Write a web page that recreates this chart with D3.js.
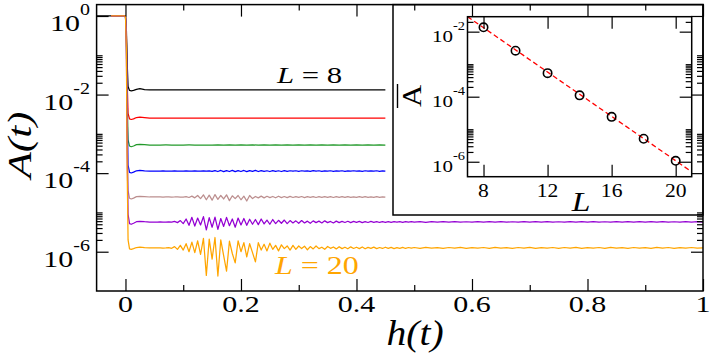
<!DOCTYPE html>
<html><head><meta charset="utf-8">
<script src="https://cdn.jsdelivr.net/npm/d3@7/dist/d3.min.js"></script>
<style>
body{margin:0;background:#fff}
svg, text, tspan{font-family:'Liberation Serif','Tinos','Times New Roman','Nimbus Roman','DejaVu Serif',serif}
</style>
</head><body>
<svg id="c" width="710" height="364" font-family="Liberation Serif, Times New Roman, serif"></svg>
<script>
// ---------------- DATA ----------------
const sizesL = [8, 10, 12, 14, 16, 18, 20];
const hStart = [-0.05, -0.025, -0.025, -0.025, -0.025, -0.025, -0.025];
const hTransient = [0, 0.0015, 0.003, 0.0045, 0.007, 0.010, 0.014, 0.019, 0.025, 0.033, 0.042];
const a8T  = [1, 0.5, 0.06, 0.016, 0.0127, 0.0125, 0.0128, 0.0136, 0.0142, 0.0134, 0.0131];
const a10T = [1, 0.4, 0.02, 0.0033, 0.0024, 0.00232, 0.0024, 0.0026, 0.00268, 0.0026, 0.00253];
const a12T = [1, 0.35, 0.008, 0.0007, 0.00049, 0.00047, 0.00049, 0.00053, 0.00054, 0.00053, 0.00052];
const a14T = [1, 0.3, 0.003, 1.6e-4, 1.05e-4, 1.01e-4, 1.06e-4, 1.15e-4, 1.18e-4, 1.15e-4, 1.13e-4];
const a16T = [1, 0.25, 0.001, 3.6e-5, 2.3e-5, 2.2e-5, 2.32e-5, 2.52e-5, 2.58e-5, 2.52e-5, 2.47e-5];
const a18T = [1, 0.2, 3e-4, 9e-6, 5.2e-6, 5.0e-6, 5.3e-6, 5.8e-6, 5.95e-6, 5.8e-6, 5.7e-6];
const a20T = [1, 0.15, 1e-4, 2e-6, 1.18e-6, 1.15e-6, 1.2e-6, 1.28e-6, 1.3e-6, 1.27e-6, 1.25e-6];

// flat tails (L = 8, 10)
const hFlat = [0.06, 0.2, 0.45];
const a8Flat = [1.31e-2, 1.31e-2, 1.31e-2];
const a10Flat = [2.53e-3, 2.53e-3, 2.53e-3];

// L = 12 tail, h = 0.05 ... 0.45 step 0.01
const h12Tail = d3.range(41).map(i => +(0.05 + i * 0.01).toFixed(3));
const a12Tail = [
 520e-6,520e-6,521e-6,519e-6,520e-6,520e-6,521e-6,519e-6,520e-6,520e-6,
 520e-6,522e-6,518e-6,523e-6,517e-6,522e-6,518e-6,523e-6,518e-6,522e-6,
 518e-6,522e-6,517e-6,523e-6,518e-6,522e-6,518e-6,521e-6,519e-6,522e-6,
 518e-6,522e-6,519e-6,521e-6,518e-6,522e-6,519e-6,521e-6,518e-6,521e-6,
 520e-6];

// L = 14 and 16 tails, h = 0.05 ... 0.45 step 0.005
const hMidTail = d3.range(81).map(i => +(0.05 + i * 0.005).toFixed(4));
const a14Tail = [
 113e-6,113e-6,113e-6,113.5e-6,112.5e-6,113e-6,113e-6,113.5e-6,112.5e-6,113e-6,
 113e-6,113.5e-6,112.5e-6,113e-6,114e-6,112e-6,113e-6,114e-6,112e-6,113.5e-6,
 111e-6,116e-6,110e-6,117e-6,109e-6,116e-6,110e-6,118e-6,109e-6,116e-6,
 110e-6,117e-6,109e-6,116e-6,111e-6,117e-6,110e-6,116e-6,111e-6,115e-6,
 110e-6,116e-6,111e-6,115e-6,110e-6,116e-6,111e-6,115e-6,112e-6,115e-6,
 111e-6,115e-6,112e-6,114e-6,111e-6,116e-6,112e-6,115e-6,111e-6,114e-6,
 112e-6,115e-6,111e-6,114e-6,112e-6,115e-6,111e-6,114e-6,112e-6,115e-6,
 112e-6,114e-6,111e-6,115e-6,112e-6,114e-6,112e-6,115e-6,111e-6,114e-6,
 113e-6];
const a16Tail = [
 24.7e-6,24.7e-6,24.8e-6,24.6e-6,24.7e-6,24.8e-6,24.6e-6,24.7e-6,24.9e-6,24.5e-6,
 24.5e-6,25.2e-6,24.0e-6,26.0e-6,23.5e-6,27.0e-6,22.5e-6,28.0e-6,21.0e-6,27.5e-6,
 20.5e-6,28.5e-6,21.5e-6,27.0e-6,22.0e-6,28.0e-6,20.0e-6,26.5e-6,22.5e-6,27.0e-6,
 21.0e-6,26.0e-6,19.5e-6,27.0e-6,22.5e-6,25.5e-6,23.5e-6,26.0e-6,23.5e-6,25.8e-6,
 23.8e-6,25.5e-6,23.6e-6,25.9e-6,23.9e-6,25.4e-6,23.8e-6,25.6e-6,24.0e-6,25.3e-6,
 24.1e-6,25.4e-6,23.9e-6,25.2e-6,24.2e-6,25.3e-6,24.0e-6,25.1e-6,24.2e-6,25.2e-6,
 24.1e-6,25.3e-6,24.0e-6,25.2e-6,24.3e-6,25.1e-6,24.1e-6,25.3e-6,24.2e-6,25.0e-6,
 24.2e-6,25.2e-6,24.1e-6,25.1e-6,24.3e-6,25.0e-6,24.2e-6,25.2e-6,24.3e-6,25.0e-6,
 24.6e-6];

// L = 18 and 20 tails: h = 0.05 ... 0.495 step 0.005, then 0.50 ... 1.00 step 0.01
const hLongTail = d3.range(90).map(i => +(0.05 + i * 0.005).toFixed(4))
  .concat(d3.range(51).map(i => +(0.5 + i * 0.01).toFixed(3)));
const a18Tail = [
 57e-7,57e-7,57.5e-7,56.5e-7,57e-7,57.5e-7,56.5e-7,59e-7,55e-7,62e-7,
 52e-7,68e-7,47e-7,75e-7,45e-7,72e-7,48e-7,78e-7,36e-7,74e-7,
 42e-7,76e-7,37e-7,70e-7,44e-7,75e-7,46e-7,68e-7,42e-7,72e-7,
 48e-7,70e-7,47e-7,67e-7,50e-7,66e-7,49e-7,68e-7,51e-7,64e-7,
 50e-7,66e-7,52e-7,63e-7,53e-7,64e-7,52e-7,62e-7,54e-7,61e-7,
 53e-7,62e-7,54e-7,60e-7,53e-7,61e-7,55e-7,60e-7,54e-7,61e-7,
 55e-7,59e-7,54e-7,60e-7,55e-7,59e-7,55.5e-7,59.5e-7,55e-7,59e-7,
 56e-7,59e-7,55e-7,58.5e-7,55.5e-7,59e-7,56e-7,58.5e-7,55.5e-7,58e-7,
 56e-7,58.5e-7,56e-7,58e-7,56.5e-7,58e-7,56e-7,58.5e-7,56.5e-7,58e-7,
 56.5e-7,58e-7,56e-7,58.3e-7,56.7e-7,58e-7,56.4e-7,58.2e-7,56.6e-7,57.9e-7,
 56.5e-7,58.1e-7,56.3e-7,58e-7,56.6e-7,58.2e-7,56.4e-7,57.9e-7,56.5e-7,58.1e-7,
 56.6e-7,58e-7,56.4e-7,58.2e-7,56.5e-7,57.9e-7,56.7e-7,58.1e-7,56.4e-7,58e-7,
 56.5e-7,58.2e-7,56.6e-7,57.9e-7,56.4e-7,58.1e-7,56.5e-7,58e-7,56.6e-7,58.2e-7,
 56.4e-7,58e-7,56.5e-7,58.1e-7,56.6e-7,57.9e-7,56.5e-7,58e-7,56.4e-7,58.1e-7,
 57e-7];
const a20Tail = [
 12.5e-7,12.5e-7,12.6e-7,12.4e-7,12.5e-7,12.7e-7,12.2e-7,13.5e-7,11.5e-7,14.5e-7,
 11.0e-7,16.0e-7,10.0e-7,17.5e-7,9.5e-7,19.0e-7,8.5e-7,22.0e-7,2.5e-7,21.0e-7,
 6.5e-7,23.0e-7,2.4e-7,20.0e-7,8.0e-7,3.2e-7,18.5e-7,9.0e-7,5.2e-7,19.0e-7,
 10.0e-7,17.0e-7,7.4e-7,16.0e-7,9.5e-7,5.5e-7,17.0e-7,11.0e-7,15.5e-7,10.5e-7,
 16.5e-7,11.5e-7,14.5e-7,10.5e-7,15.0e-7,12.0e-7,14.0e-7,11.0e-7,14.5e-7,11.5e-7,
 14.0e-7,12.0e-7,13.8e-7,11.2e-7,13.5e-7,11.8e-7,14.0e-7,12.0e-7,13.0e-7,11.5e-7,
 13.6e-7,12.2e-7,13.2e-7,11.8e-7,13.4e-7,12.0e-7,13.0e-7,11.9e-7,13.3e-7,12.1e-7,
 13.0e-7,12.0e-7,13.2e-7,11.9e-7,12.9e-7,12.2e-7,13.1e-7,12.0e-7,12.8e-7,12.1e-7,
 13.0e-7,12.2e-7,12.9e-7,12.0e-7,12.7e-7,12.2e-7,12.9e-7,12.1e-7,12.8e-7,12.3e-7,
 12.8e-7,12.2e-7,12.9e-7,12.3e-7,12.7e-7,12.1e-7,12.8e-7,12.4e-7,12.9e-7,12.2e-7,
 12.7e-7,12.3e-7,12.8e-7,12.1e-7,12.9e-7,12.4e-7,12.7e-7,12.2e-7,12.8e-7,12.3e-7,
 12.9e-7,12.2e-7,12.7e-7,12.4e-7,12.8e-7,12.1e-7,12.8e-7,12.3e-7,12.9e-7,12.2e-7,
 12.7e-7,12.4e-7,12.8e-7,12.2e-7,12.9e-7,12.3e-7,12.7e-7,12.2e-7,12.8e-7,12.4e-7,
 12.7e-7,12.2e-7,12.9e-7,12.3e-7,12.8e-7,12.2e-7,12.7e-7,12.4e-7,12.8e-7,12.3e-7,
 12.6e-7];

// inset data
const insetL = [8, 10, 12, 14, 16, 18, 20];
const insetA = [1.36e-2, 2.6e-3, 5.3e-4, 1.1e-4, 2.4e-5, 5.1e-6, 1.07e-6];
const fitL = [7, 21];
const fitA = [2.9e-2, 4.9e-7];

// axes
const hDomain = [-0.05, 1];
const aDomain = [1e-7, 1.95];
const hMajor = [0, 0.2, 0.4, 0.6, 0.8, 1];
const hMinor = [0.1, 0.3, 0.5, 0.7, 0.9];
const hLabels = ["0", "0.2", "0.4", "0.6", "0.8", "1"];
const aMajor = [1, 1e-2, 1e-4, 1e-6];
const aMajorExp = ["0", "-2", "-4", "-6"];
const aMinor = [1e-6, 1e-4, 1e-2].flatMap(b => [2,3,4,5,6,7,8,9,10].map(k => k * b));
const insetLDomain = [7, 21];
const insetADomain = [Math.pow(10, -6.46), Math.pow(10, -1.54)];
const insetLTicks = [8, 12, 16, 20];
const insetAMajor = [1e-2, 1e-4, 1e-6];
const insetAExp = ["-2", "-4", "-6"];
const insetAMinor = [1e-6, 1e-4, 1e-2].flatMap(b => [2,3,4,5,6,7,8,9,10].map(k => k * b));

// ---------------- STYLE ----------------
const colors = ["#000000", "#ff0000", "#22992a", "#0000ff", "#bc8f8f", "#9400d3", "#ffa500"];
const FONT = "'Liberation Serif','Tinos','Times New Roman','Nimbus Roman','DejaVu Serif',serif";

// ---------------- BUILD ----------------
const transients = [a8T, a10T, a12T, a14T, a16T, a18T, a20T];
const tails = [
  [hFlat, a8Flat], [hFlat, a10Flat], [h12Tail, a12Tail], [hMidTail, a14Tail],
  [hMidTail, a16Tail], [hLongTail, a18Tail], [hLongTail, a20Tail]
];
const series = sizesL.map((L, i) => {
  const pts = [{h: hStart[i], A: 1}];
  hTransient.forEach((h, j) => pts.push({h, A: transients[i][j]}));
  const [hs, as] = tails[i];
  hs.forEach((h, j) => { if (as[j] !== undefined) pts.push({h, A: as[j]}); });
  return {L, color: colors[i], pts};
});

const svg = d3.select("#c");
const M = {l: 96.6, r: 703, t: 4.6, b: 291};
const x = d3.scaleLinear().domain(hDomain).range([M.l, M.r]);
const y = d3.scaleLog().domain(aDomain).range([M.b, M.t]);

svg.append("clipPath").attr("id", "mainClip").append("rect")
  .attr("x", M.l).attr("y", M.t).attr("width", M.r - M.l).attr("height", M.b - M.t);

const line = d3.line().x(d => x(d.h)).y(d => y(d.A));
const gLines = svg.append("g").attr("clip-path", "url(#mainClip)");
series.forEach(s => {
  gLines.append("path").attr("d", line(s.pts)).attr("fill", "none")
    .attr("stroke", s.color).attr("stroke-width", 1.25).attr("stroke-linejoin", "round");
});

function stretchedText(parent, tx, ty, size, sx, anchor, parts, color, rot) {
  const t = parent.append("text")
    .attr("transform", `translate(${tx},${ty})` + (rot ? ` rotate(${rot})` : "") + ` scale(${sx},1)`)
    .attr("text-anchor", anchor).attr("font-size", size)
    .attr("font-family", FONT).style("font-family", FONT)
    .style("fill", color || "#000");
  parts.forEach(p => {
    const ts = t.append("tspan").text(p.t);
    if (p.i) ts.attr("font-style", "italic");
    if (p.dy) ts.attr("dy", p.dy);
    if (p.fs) ts.attr("font-size", p.fs);
  });
  return t;
}
stretchedText(svg, 277, 83, 24, 1.28, "start", [{t: "L", i: true}, {t: " = " + sizesL[0]}]);
stretchedText(svg, 275, 274, 25, 1.28, "start", [{t: "L", i: true}, {t: " = " + sizesL[6]}], colors[6]);

// inset box
const B = {l: 393, r: 703, t: 4.6, b: 215};
svg.append("rect").attr("x", B.l).attr("y", B.t).attr("width", B.r - B.l).attr("height", B.b - B.t)
  .attr("fill", "#fff").attr("stroke", "#000").attr("stroke-width", 1.5);

// inset axes
const I = {l: 467.5, r: 691.7, t: 16.7, b: 176.7};
const xi = d3.scaleLinear().domain(insetLDomain).range([I.l, I.r]);
const yi = d3.scaleLog().domain(insetADomain).range([I.b, I.t]);
svg.append("clipPath").attr("id", "insetClip").append("rect")
  .attr("x", I.l).attr("y", I.t).attr("width", I.r - I.l).attr("height", I.b - I.t);
svg.append("g").attr("clip-path", "url(#insetClip)").append("path")
  .attr("d", d3.line().x(d => xi(d[0])).y(d => yi(d[1]))(fitL.map((L, i) => [L, fitA[i]])))
  .attr("stroke", "#ff0000").attr("stroke-width", 1.3).attr("stroke-dasharray", "5,3").attr("fill", "none");
svg.append("g").selectAll("circle").data(insetL).join("circle")
  .attr("cx", d => xi(d)).attr("cy", (d, i) => yi(insetA[i])).attr("r", 4.2)
  .attr("fill", "none").attr("stroke", "#000").attr("stroke-width", 1.6);

function axisTicks(axisFn, scale, values, size, transform) {
  const g = svg.append("g").attr("transform", transform)
    .call(axisFn(scale).tickValues(values).tickSize(-size).tickFormat(""));
  g.select(".domain").remove();
  g.selectAll("line").attr("stroke", "#000").attr("stroke-width", 1.2);
  g.selectAll("text").remove();
}
axisTicks(d3.axisBottom, xi, insetLTicks, 12, `translate(0,${I.b})`);
axisTicks(d3.axisTop, xi, insetLTicks, 12, `translate(0,${I.t})`);
axisTicks(d3.axisLeft, yi, insetAMajor, 12, `translate(${I.l},0)`);
axisTicks(d3.axisRight, yi, insetAMajor, 12, `translate(${I.r},0)`);
const inMinor = insetAMinor.filter(v => v >= insetADomain[0] && v <= insetADomain[1]);
axisTicks(d3.axisLeft, yi, inMinor, 6, `translate(${I.l},0)`);
axisTicks(d3.axisRight, yi, inMinor, 6, `translate(${I.r},0)`);
svg.append("rect").attr("x", I.l).attr("y", I.t).attr("width", I.r - I.l).attr("height", I.b - I.t)
  .attr("fill", "none").attr("stroke", "#000").attr("stroke-width", 1.5);
insetLTicks.forEach(v => stretchedText(svg, xi(v), 196.5, 18, 1.2, "middle", [{t: String(v)}]));
insetAMajor.forEach((v, i) => stretchedText(svg, 465, yi(v) + 10, 17.5, 1.2, "end",
  [{t: "10"}, {t: insetAExp[i], fs: 12, dy: -12}]));
stretchedText(svg, 581, 211, 28, 1.2, "middle", [{t: "L", i: true}]);
stretchedText(svg, 421, 96, 28, 1.1, "middle", [{t: "A"}], "#000", -90);
svg.append("line").attr("x1", 397.5).attr("x2", 397.5).attr("y1", 84).attr("y2", 108)
  .attr("stroke", "#000").attr("stroke-width", 1.4);

// main axes ticks
axisTicks(d3.axisBottom, x, hMajor, 12, `translate(0,${M.b})`);
axisTicks(d3.axisBottom, x, hMinor, 6, `translate(0,${M.b})`);
axisTicks(d3.axisTop, x, hMajor, 12, `translate(0,${M.t})`);
axisTicks(d3.axisTop, x, hMinor, 6, `translate(0,${M.t})`);
axisTicks(d3.axisLeft, y, aMajor, 12, `translate(${M.l},0)`);
axisTicks(d3.axisRight, y, aMajor, 12, `translate(${M.r},0)`);
const mMinor = aMinor.filter(v => v >= aDomain[0] && v <= aDomain[1]);
axisTicks(d3.axisLeft, y, mMinor, 6, `translate(${M.l},0)`);
axisTicks(d3.axisRight, y, mMinor, 6, `translate(${M.r},0)`);
svg.append("rect").attr("x", M.l).attr("y", M.t).attr("width", M.r - M.l).attr("height", M.b - M.t)
  .attr("fill", "none").attr("stroke", "#000").attr("stroke-width", 1.5);

hMajor.forEach((v, i) => stretchedText(svg, x(v), 312, 24, 1.25, "middle", [{t: hLabels[i]}]));
aMajor.forEach((v, i) => stretchedText(svg, 90, y(v) + 15, 24, 1.25, "end",
  [{t: "10"}, {t: aMajorExp[i], fs: 16, dy: -16}]));
stretchedText(svg, 415, 345, 36, 1.1, "middle", [{t: "h(t)", i: true}]);
stretchedText(svg, 31, 145, 33, 1.3, "middle", [{t: "A(t)", i: true}], "#000", -90);
</script>
</body></html>
